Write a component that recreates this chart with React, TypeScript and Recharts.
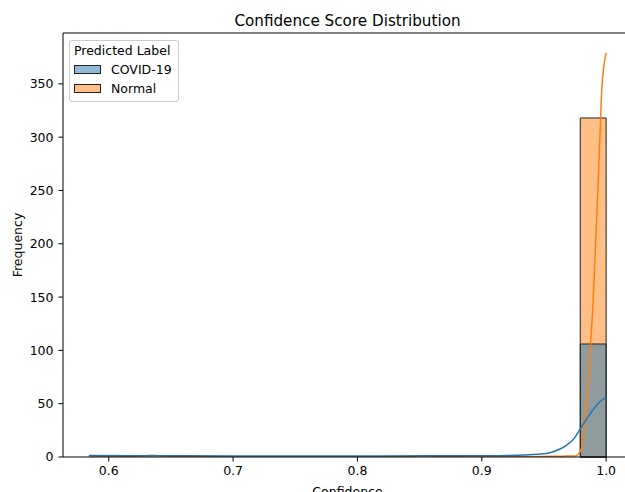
import React from 'react';
import { ComposedChart, Line, XAxis, YAxis, ReferenceArea, ReferenceLine, Legend } from 'recharts';

const FONT = '"DejaVu Sans", sans-serif';

// histogram bins (20 bins over the observed confidence range)
const binEdges = [
  0.584, 0.6048, 0.6256, 0.6464, 0.6672, 0.688, 0.7088, 0.7296, 0.7504, 0.7712, 0.792,
  0.8128, 0.8336, 0.8544, 0.8752, 0.896, 0.9168, 0.9376, 0.9584, 0.9792, 1.0,
];
const covidCounts = [0, 0, 0, 0, 0, 0, 0, 0, 0, 0, 0, 0, 0, 0, 0, 0, 0, 0, 0, 106];
const normalCounts = [0, 0, 0, 0, 0, 0, 0, 0, 0, 0, 0, 0, 0, 0, 0, 0, 0, 0, 0, 318];

// KDE curves
const covidKdeX = [
  0.584, 0.62, 0.66, 0.7, 0.74, 0.78, 0.82, 0.86, 0.9, 0.93, 0.945, 0.955, 0.962, 0.968,
  0.974, 0.979, 0.984, 0.988, 0.992, 0.996, 1.0,
];
const covidKdeY = [
  1.3, 1.2, 1.1, 1.0, 1.0, 1.0, 1.0, 1.1, 1.2, 1.6, 2.5, 4, 7, 11, 17, 26, 35, 42, 48, 53, 55.6,
];
const normalKdeX = [
  0.584, 0.61, 0.625, 0.635, 0.645, 0.66, 0.7, 0.8, 0.835, 0.845, 0.853, 0.862, 0.875, 0.9,
  0.94, 0.965, 0.975, 0.978, 0.9805, 0.9825, 0.9845, 0.9871, 0.9896, 0.9915, 0.9935, 0.995,
  0.9965, 0.998, 1.0,
];
const normalKdeY = [
  0.1, 0.3, 1.0, 1.6, 1.0, 0.2, 0, 0, 0.2, 0.8, 1.2, 0.8, 0.2, 0.1, 0.3, 0.8, 1, 3, 10, 28, 53,
  100, 147, 200, 255, 300, 345, 365, 379,
];

const xTicks = [0.6, 0.7, 0.8, 0.9, 1.0];
const yTicks = [0, 50, 100, 150, 200, 250, 300, 350];
const categories = ['COVID-19', 'Normal'];
const colors = ['#1f77b4', '#ff7f0e'];
const patchFills = ['rgba(31,119,180,0.5)', 'rgba(255,127,14,0.5)'];

const X_DOMAIN = [0.5632, 1.0208];
const Y_MAX = 397.7;

const covidKde = covidKdeX.map((x, i) => ({ x, y: covidKdeY[i] }));
const normalKde = normalKdeX.map((x, i) => ({ x, y: normalKdeY[i] }));

function LegendBox() {
  return (
    <div
      style={{
        width: 110,
        height: 62,
        boxSizing: 'border-box',
        border: '1px solid #cccccc',
        borderRadius: 3,
        background: 'rgba(255,255,255,0.8)',
        fontFamily: FONT,
        fontSize: 12.5,
        color: '#000',
      }}
    >
      <div style={{ height: 19, lineHeight: '19px', paddingLeft: 4, whiteSpace: 'nowrap' }}>
        Predicted Label
      </div>
      {categories.map((c, i) => (
        <div
          key={c}
          style={{ height: 19, lineHeight: '19px', display: 'flex', alignItems: 'center', whiteSpace: 'nowrap' }}
        >
          <span
            style={{
              display: 'inline-block',
              marginLeft: 4,
              width: 27,
              height: 8.5,
              boxSizing: 'border-box',
              border: '1px solid #222',
              backgroundColor: patchFills[i],
            }}
          />
          <span style={{ marginLeft: 10 }}>{c}</span>
        </div>
      ))}
    </div>
  );
}

export default function App() {
  const tickStyle = { fill: '#000', fontSize: 12.5, fontFamily: FONT };
  return (
    <div
      style={{
        position: 'absolute',
        left: 0,
        top: 0,
        width: 625,
        height: 492,
        overflow: 'hidden',
        background: '#fff',
      }}
    >
      <div
        style={{
          position: 'absolute',
          left: 0,
          width: 695,
          top: 14,
          textAlign: 'center',
          fontFamily: FONT,
          fontSize: 15.2,
          lineHeight: 1,
          color: '#000',
          zIndex: 2,
        }}
      >
        Confidence Score Distribution
      </div>
      {/* plot area runs past the right edge, as in the cropped original */}
      <ComposedChart width={625} height={500} margin={{ top: 33, right: -7, bottom: 8, left: 0 }}>
        <XAxis
          dataKey="x"
          type="number"
          domain={X_DOMAIN}
          allowDataOverflow
          ticks={xTicks}
          tickFormatter={(v: number) => v.toFixed(1)}
          tick={tickStyle}
          axisLine={{ stroke: '#000' }}
          tickLine={{ stroke: '#000' }}
          tickSize={4.5}
          tickMargin={5}
          height={35}
          label={{
            value: 'Confidence',
            position: 'insideBottom',
            offset: -4,
            style: { fill: '#000', fontSize: 12.5, fontFamily: FONT },
          }}
        />
        <YAxis
          type="number"
          domain={[0, Y_MAX]}
          allowDataOverflow
          ticks={yTicks}
          tick={tickStyle}
          axisLine={{ stroke: '#000' }}
          tickLine={{ stroke: '#000' }}
          tickSize={4.5}
          tickMargin={5}
          width={63}
          label={{
            value: 'Frequency',
            angle: -90,
            position: 'insideLeft',
            offset: 18,
            style: { fill: '#000', fontSize: 12.5, fontFamily: FONT, textAnchor: 'middle' },
          }}
        />
        {normalCounts.map((n, i) =>
          n > 0 ? (
            <ReferenceArea
              key={'n' + i}
              x1={binEdges[i]}
              x2={binEdges[i + 1]}
              y1={0}
              y2={n}
              fill={colors[1]}
              fillOpacity={0.5}
              stroke="#222"
              strokeWidth={1}
            />
          ) : null
        )}
        {covidCounts.map((n, i) =>
          n > 0 ? (
            <ReferenceArea
              key={'c' + i}
              x1={binEdges[i]}
              x2={binEdges[i + 1]}
              y1={0}
              y2={n}
              fill={colors[0]}
              fillOpacity={0.5}
              stroke="#222"
              strokeWidth={1}
            />
          ) : null
        )}
        {/* top spine */}
        <ReferenceLine y={Y_MAX} stroke="#000" />
        <Line
          data={normalKde}
          dataKey="y"
          type="monotone"
          stroke={colors[1]}
          strokeWidth={1.5}
          dot={false}
          isAnimationActive={false}
        />
        <Line
          data={covidKde}
          dataKey="y"
          type="monotone"
          stroke={colors[0]}
          strokeWidth={1.5}
          dot={false}
          isAnimationActive={false}
        />
        <Legend
          layout="vertical"
          align="center"
          verticalAlign="middle"
          content={() => <LegendBox />}
          wrapperStyle={{ left: 69, top: 40, width: 'auto', height: 'auto' }}
        />
      </ComposedChart>
    </div>
  );
}
